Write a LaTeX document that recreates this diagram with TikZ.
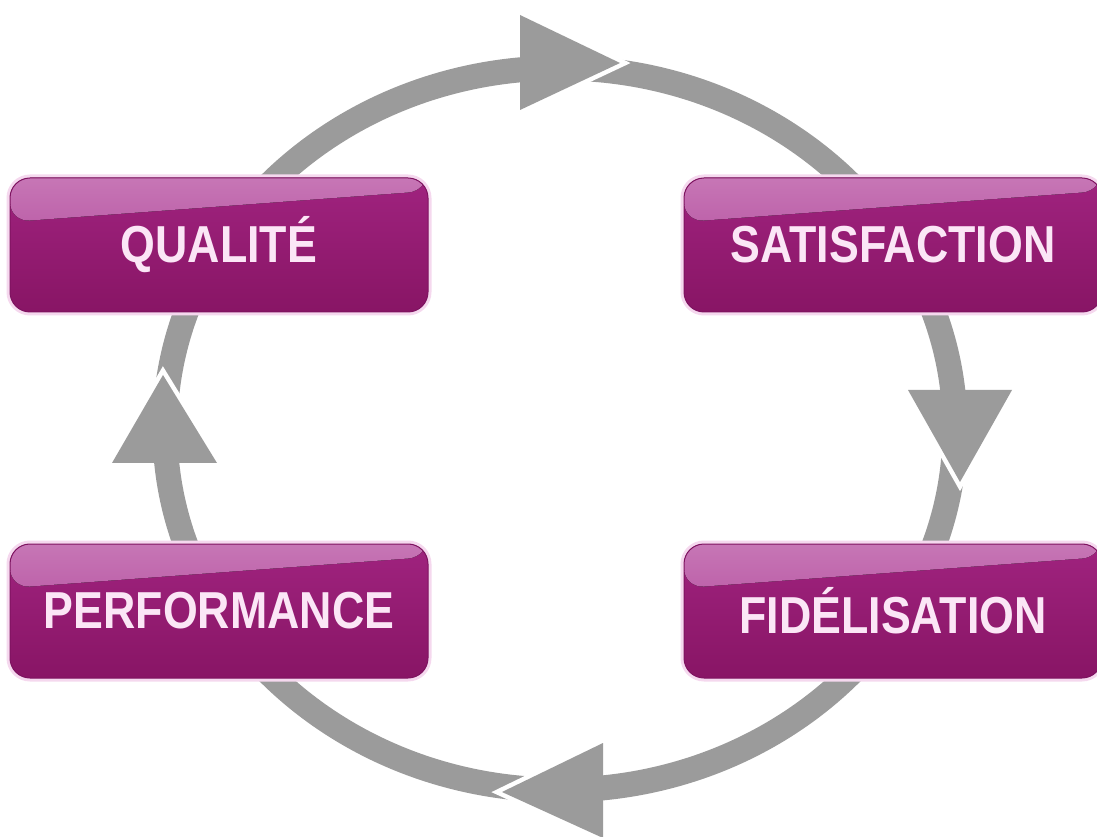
\documentclass[tikz,border=0pt]{standalone}
\usepackage{fontspec}
\newfontfamily\boxfont[FakeStretch=0.86]{Liberation Sans}
\definecolor{ringgray}{HTML}{9B9B9B}
\definecolor{boxtop}{HTML}{A0237F}
\definecolor{boxbot}{HTML}{881565}
\definecolor{hitop}{HTML}{C777B6}
\definecolor{hibot}{HTML}{AC3C94}
\definecolor{boxedge}{HTML}{7E1360}
\definecolor{boxglow}{HTML}{F5D8EE}
\definecolor{boxtext}{HTML}{FBE6F6}
\tikzset{
  ring/.style={draw=ringgray, line width=25pt},
  headcut/.style={draw=white, line width=9pt, line join=miter},
  headfill/.style={fill=ringgray},
  box/.style={rectangle, rounded corners=20pt, minimum width=418pt, minimum height=134pt,
    inner sep=0pt, text=boxtext, font=\boxfont\bfseries\fontsize{52}{52}\selectfont,
    top color=boxtop, bottom color=boxbot, draw=boxedge, line width=1pt,
    preaction={draw=boxglow, line width=7pt},
    path picture={\fill[top color=hitop, bottom color=hibot]
      ([yshift=2pt]path picture bounding box.north west) --
      ([yshift=2pt]path picture bounding box.north east) --
      ([yshift=-13pt]path picture bounding box.north east) --
      ([yshift=-44pt]path picture bounding box.north west) -- cycle;}}
}
\begin{document}
\begin{tikzpicture}[x=1pt,y=1pt]
\useasboundingbox (0,0) rectangle (1097,836);
% ring
\coordinate (c) at (560,407);
\draw[ring] (c) ellipse [x radius=395, y radius=361];
% arrowheads: top (right), right (down), bottom (left), left (up)
\coordinate (t1) at (520,821); \coordinate (t2) at (520,726); \coordinate (tt) at (620,773);
\coordinate (r1) at (908,446); \coordinate (r2) at (1012,446); \coordinate (rt) at (960,354);
\coordinate (b1) at (603,93);  \coordinate (b2) at (603,-2);  \coordinate (bt) at (502,44);
\coordinate (l1) at (112,373); \coordinate (l2) at (217,373); \coordinate (lt) at (163,461);
\foreach \a in {t,r,b,l}{
  \draw[headcut] (\a1) -- (\a t) -- (\a2);
  \fill[headfill] (\a1) -- (\a t) -- (\a2) -- cycle;
}
% boxes
\node[box] (q) at (219,591) {QUALITÉ};
\node[box] (s) at (893,591) {SATISFACTION};
\node[box] (p) at (219,225) {PERFORMANCE};
\node[box] (f) at (893,225) {FIDÉLISATION};
\end{tikzpicture}
\end{document}
